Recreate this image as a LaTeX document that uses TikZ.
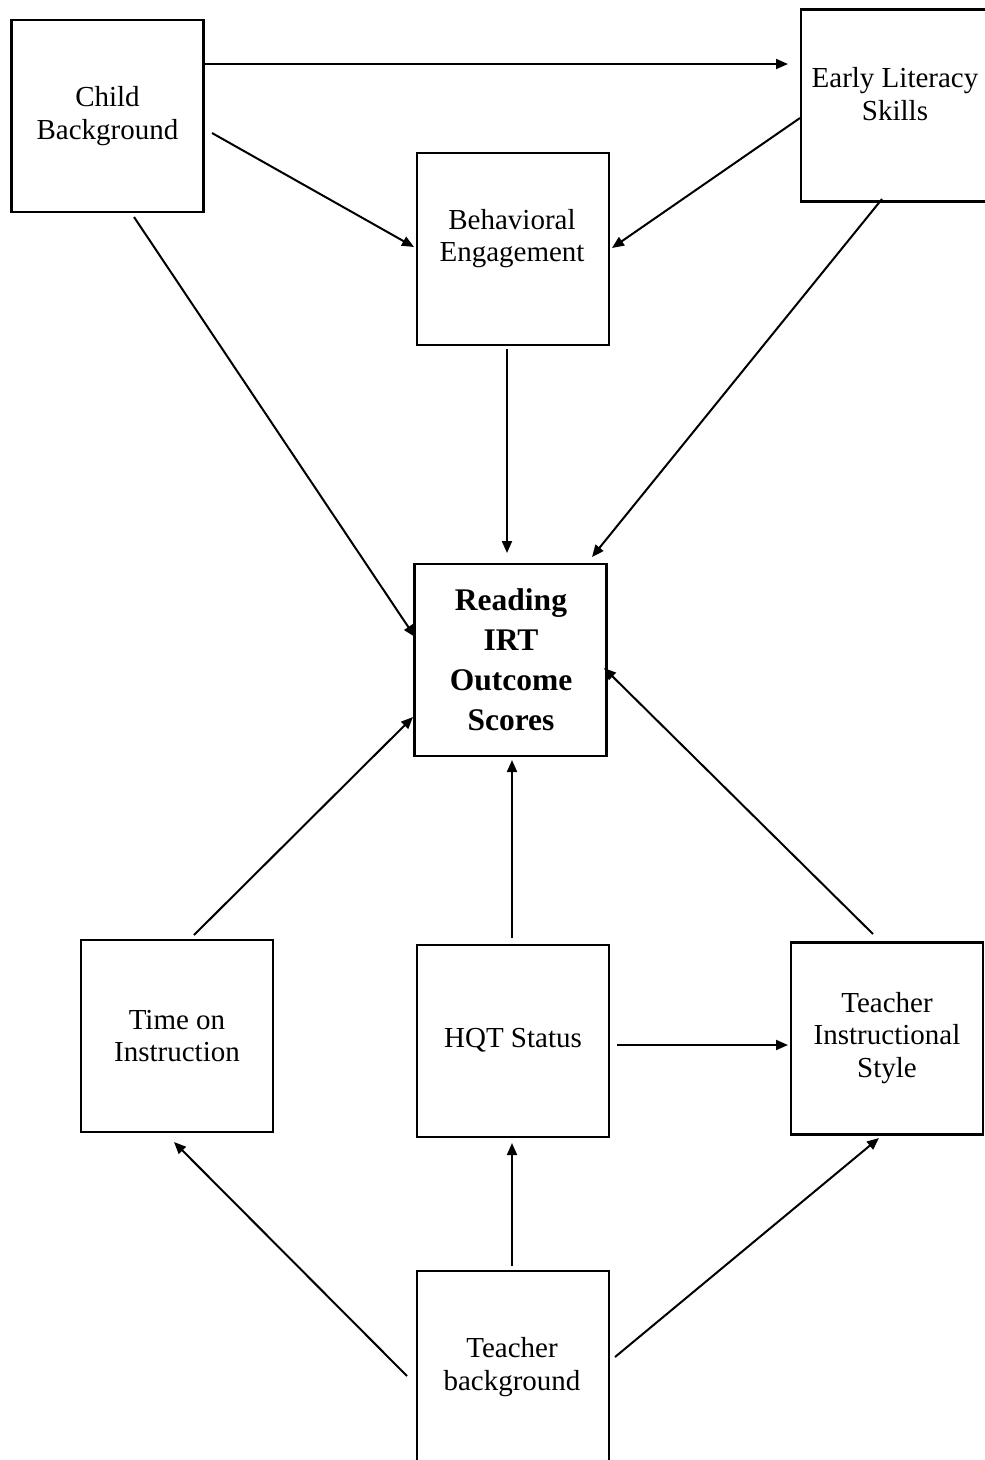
\documentclass[tikz,border=0pt]{standalone}
\usepackage{fontspec}
\setmainfont{Liberation Serif}
\usetikzlibrary{arrows.meta}
\begin{document}
\begin{tikzpicture}[x=1pt,y=-1pt,
 box/.style={draw, line width=2.5pt, minimum width=192pt, minimum height=192pt, inner sep=0pt},
 lbl/.style={align=center, font=\fontsize{29}{32.5}\selectfont, inner sep=0pt},
 blbl/.style={align=center, font=\fontsize{31.5}{40}\selectfont\bfseries, inner sep=0pt},
 arr/.style={line width=2pt, -{Triangle[length=12pt,width=10pt]}},
]
\useasboundingbox (0,0) rectangle (985,1460);
% boxes
\node[box] (cb) at (107.5,116) {};
\node[box] (el) at (897,105.5) {};
\node[box] (be) at (513,249) {};
\node[box] (rd) at (510.5,660) {};
\node[box] (ti) at (177,1036) {};
\node[box] (hq) at (513,1041) {};
\node[box] (ts) at (887,1038.5) {};
\node[box] (tb) at (513,1367) {};
% texts
\node[lbl] (cbT) at (107.5,116) {Child\\Background};
\node[lbl] (elT) at (895,94) {Early Literacy\\Skills};
\node[lbl] (beT) at (512,238.5) {Behavioral\\Engagement};
\node[blbl] (rdT) at (511,660) {Reading\\IRT\\Outcome\\Scores};
\node[lbl] (tiT) at (177,1036) {Time on\\Instruction};
\node[lbl] (hqT) at (513,1040) {HQT Status};
\node[lbl] (tsT) at (887,1038) {Teacher\\Instructional\\Style};
\node[lbl] (tbT) at (512,1367) {Teacher\\background};
% arrow end points
\coordinate (a1s) at (205,64);   \coordinate (a1e) at (788,64);
\coordinate (a2s) at (212,133);  \coordinate (a2e) at (414,247);
\coordinate (a3s) at (134,217);  \coordinate (a3e) at (415,637);
\coordinate (a4s) at (800,118);  \coordinate (a4e) at (612,248);
\coordinate (a5s) at (882,199);  \coordinate (a5e) at (592,557);
\coordinate (a6s) at (507,349);  \coordinate (a6e) at (507,553);
\coordinate (a7s) at (194,935);  \coordinate (a7e) at (413,717);
\coordinate (a8s) at (512,938);  \coordinate (a8e) at (512,760);
\coordinate (a9s) at (873,934);  \coordinate (a9e) at (604,668);
\coordinate (a10s) at (617,1045); \coordinate (a10e) at (788,1045);
\coordinate (a11s) at (407,1376); \coordinate (a11e) at (174,1142);
\coordinate (a12s) at (512,1266); \coordinate (a12e) at (512,1143);
\coordinate (a13s) at (615,1357); \coordinate (a13e) at (879,1138);
% connectors
\draw[arr] (a1s) -- (a1e);
\draw[arr] (a2s) -- (a2e);
\draw[arr] (a3s) -- (a3e);
\draw[arr] (a4s) -- (a4e);
\draw[arr] (a5s) -- (a5e);
\draw[arr] (a6s) -- (a6e);
\draw[arr] (a7s) -- (a7e);
\draw[arr] (a8s) -- (a8e);
\draw[arr] (a9s) -- (a9e);
\draw[arr] (a10s) -- (a10e);
\draw[arr] (a11s) -- (a11e);
\draw[arr] (a12s) -- (a12e);
\draw[arr] (a13s) -- (a13e);
\end{tikzpicture}
\end{document}
